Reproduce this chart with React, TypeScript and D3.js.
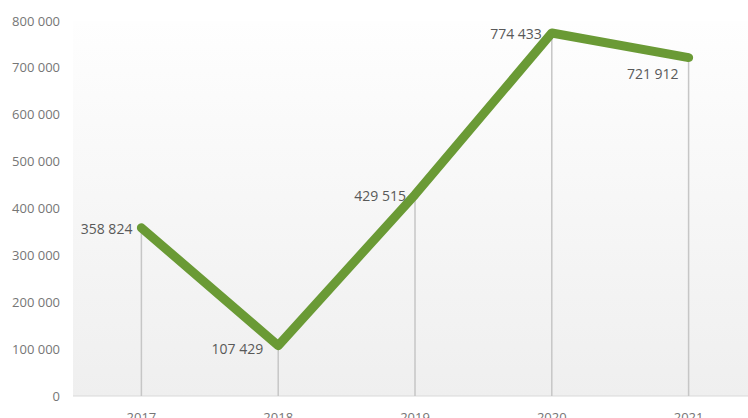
import React from "react";
import * as d3 from "d3";

const years = ["2017", "2018", "2019", "2020", "2021"];
const values = [358824, 107429, 429515, 774433, 721912];
const yTicks = [0, 100000, 200000, 300000, 400000, 500000, 600000, 700000, 800000];

const width = 748;
const height = 418;

const fmt = (v: number) => d3.format(",")(v).replace(/,/g, " ");

// label offsets (dx, dy) relative to each point, Excel-style "left" / "below"
const labelOffsets: [number, number][] = [
  [-9, 1],
  [-15, 3],
  [-9, 1],
  [-10, 1],
  [-10, 16],
];

export default function App() {
  const margin = { top: 21, left: 73, bottom: 22 };
  const x = d3.scaleBand<string>().domain(years).range([margin.left, 757]);
  const y = d3
    .scaleLinear()
    .domain([0, 800000])
    .range([height - margin.bottom, margin.top]);

  const cx = (d: string) => (x(d) ?? 0) + x.bandwidth() / 2;
  const pts: [number, number][] = values.map((v, i) => [cx(years[i]), y(v)]);
  const line = d3.line<[number, number]>()(pts) ?? "";

  return (
    <svg
      width={width}
      height={height}
      style={{ position: "absolute", left: 0, top: 0, background: "#fff" }}
      fontFamily="'Open Sans', sans-serif"
    >
      <defs>
        <linearGradient id="bg" x1="0" y1="0" x2="0" y2="1">
          <stop offset="0" stopColor="#fefefe" />
          <stop offset="1" stopColor="#efefef" />
        </linearGradient>
      </defs>
      <rect
        x={margin.left}
        y={y(800000)}
        width={width - margin.left}
        height={y(0) - y(800000)}
        fill="url(#bg)"
      />
      <line
        x1={margin.left}
        x2={width}
        y1={y(0)}
        y2={y(0)}
        stroke="#d9d9d9"
        strokeWidth={1.2}
      />
      {yTicks.map((t) => (
        <text
          key={t}
          x={60}
          y={y(t)}
          dy="0.35em"
          textAnchor="end"
          fontSize={13}
          fill="#767676"
        >
          {fmt(t)}
        </text>
      ))}
      {years.map((yr) => (
        <text
          key={yr}
          x={cx(yr)}
          y={422}
          textAnchor="middle"
          fontSize={13}
          fill="#767676"
        >
          {yr}
        </text>
      ))}
      {pts.map(([px, py], i) => (
        <line
          key={i}
          x1={px}
          x2={px}
          y1={py}
          y2={y(0)}
          stroke="#c6c6c6"
          strokeWidth={1.5}
        />
      ))}
      <path
        d={line}
        fill="none"
        stroke="#6a9a35"
        strokeWidth={9}
        strokeLinecap="round"
        strokeLinejoin="round"
      />
      {pts.map(([px, py], i) => (
        <text
          key={i}
          x={px + labelOffsets[i][0]}
          y={py + labelOffsets[i][1]}
          dy="0.35em"
          textAnchor="end"
          fontSize={14}
          fill="#595959"
        >
          {fmt(values[i])}
        </text>
      ))}
    </svg>
  );
}
